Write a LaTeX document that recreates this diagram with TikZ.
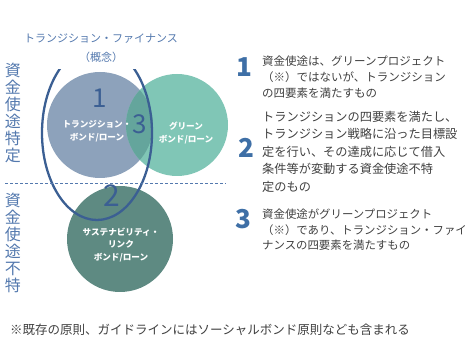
\documentclass[tikz,border=0pt]{standalone}
\usepackage{fontspec}
\setmainfont{Noto Sans CJK JP}
\usetikzlibrary{shapes.geometric}
\definecolor{tblue}{HTML}{8DA2BB}
\definecolor{gteal}{HTML}{80C6B6}
\definecolor{olap}{HTML}{64A59C}
\definecolor{slcol}{HTML}{5E8A82}
\definecolor{ellc}{HTML}{3B5F93}
\definecolor{lblue}{HTML}{5479AE}
\definecolor{numc}{HTML}{3E6FA6}
\definecolor{bodyc}{HTML}{404040}
\tikzset{
  inbubble/.style={text=white, align=center, inner sep=0pt, font=\fontsize{8.6}{12.5}\selectfont\bfseries},
  bignum/.style={text=ellc, inner sep=0pt, font=\fontsize{26}{26}\selectfont},
  rnum/.style={text=numc, inner sep=0pt, font=\fontsize{26}{26}\selectfont\bfseries},
  desc/.style={text=bodyc, align=left, anchor=north west, inner sep=0pt},
  sidelab/.style={text=lblue, align=center, inner sep=0pt, font=\fontsize{16}{17}\selectfont},
  divider/.style={draw=lblue, line width=0.9pt, dash pattern=on 3pt off 2pt}
}
\begin{document}
\begin{tikzpicture}[x=1pt,y=-1pt]
\useasboundingbox (0,0) rectangle (471,344);
% circles
\node[circle, fill=tblue, minimum size=106pt, inner sep=0pt] (tc) at (100,125) {};
\node[circle, fill=gteal, minimum size=102pt, inner sep=0pt] (gc) at (177,125) {};
\begin{scope}
  \clip (100,125) circle [radius=53pt];
  \fill[olap] (177,125) circle [radius=51pt];
\end{scope}
\node[circle, fill=slcol, minimum size=106pt, inner sep=0pt] (sc) at (120,239) {};
% concept ellipse
\begin{scope}
  \clip (0,70) rectangle (300,344);
  \draw[ellc, line width=2.3pt] (97,133) ellipse [x radius=55pt, y radius=87pt];
\end{scope}
% dashed divider
\coordinate (dl) at (5,183);
\coordinate (dr) at (226,183);
\draw[divider] (dl) -- (dr);
% title
\node[text=lblue, align=center, inner sep=0pt, font=\fontsize{11}{19}\selectfont] (title) at (101,48) {トランジション・ファイナンス\\（概念）};
% side labels
\node[sidelab] (s1) at (13,113) {資\\金\\使\\途\\特\\定};
\node[sidelab] (s2) at (13,243) {資\\金\\使\\途\\不\\特};
% bubble texts
\node[inbubble] (tt) at (97,131) {トランジション・\\ボンド/ローン};
\node[inbubble] (gt) at (186,133) {グリーン\\ボンド/ローン};
\node[inbubble] (st) at (121,245) {サステナビリティ・\\リンク\\ボンド/ローン};
% numbers in diagram
\node[bignum] (n1) at (100,98) {1};
\node[bignum] (n3) at (140,124) {3};
\node[bignum, font=\fontsize{30}{30}\selectfont] (n2) at (112,196) {2};
% right descriptions
\node[rnum] (r1) at (244,67) {1};
\node[desc, font=\fontsize{11.5}{16}\selectfont] (d1) at (262,56) {資金使途は、グリーンプロジェクト\\（※）ではないが、トランジション\\の四要素を満たすもの};
\node[rnum] (r2) at (246,148) {2};
\node[desc, font=\fontsize{12.2}{17.5}\selectfont] (d2) at (262,111) {トランジションの四要素を満たし、\\トランジション戦略に沿った目標設\\定を行い、その達成に応じて借入\\条件等が変動する資金使途不特\\定のもの};
\node[rnum] (r3) at (243,219) {3};
\node[desc, font=\fontsize{11.4}{15.2}\selectfont] (d3) at (262,209) {資金使途がグリーンプロジェクト\\（※）であり、トランジション・ファイ\\ナンスの四要素を満たすもの};
% footnote
\node[text=bodyc, anchor=west, inner sep=0pt, font=\fontsize{12.5}{14}\selectfont] (fn) at (10,330) {※既存の原則、ガイドラインにはソーシャルボンド原則なども含まれる};
\end{tikzpicture}
\end{document}
